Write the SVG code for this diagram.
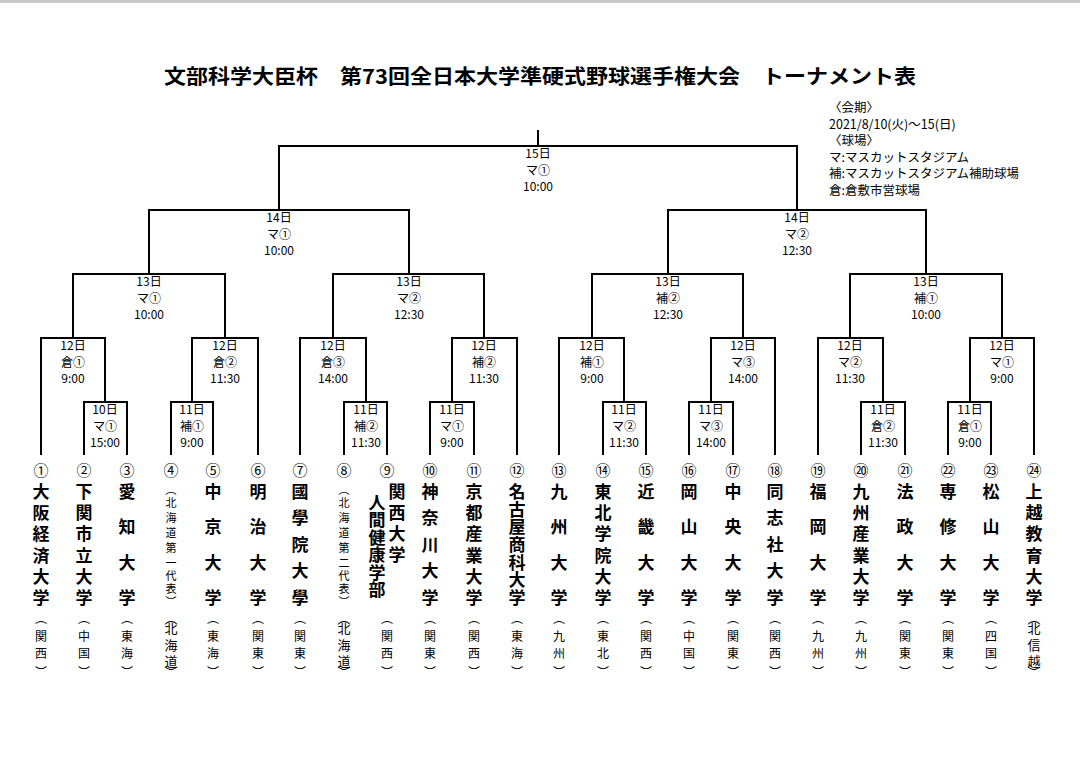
<svg xmlns="http://www.w3.org/2000/svg" width="1080" height="765" viewBox="0 0 1080 765">
<style>
text{font-family:"Noto Sans CJK JP","Noto Sans",sans-serif;fill:#000;text-anchor:middle}
.t{font-size:20px;font-weight:bold}
.i{font-size:12.5px;text-anchor:start}
.m{font-size:12px}
.c{font-size:15px}
.n{font-size:17px;font-weight:bold}
.r{font-size:12px}
.r3{font-size:13px}
.s{font-size:11px}
path{fill:none;stroke:#000;stroke-width:2}
</style>
<rect width="1080" height="765" fill="#fff"/>
<rect width="1080" height="3" fill="#c8c8c8"/>
<text class="t" x="540" y="84" textLength="752" lengthAdjust="spacingAndGlyphs">文部科学大臣杯　第73回全日本大学準硬式野球選手権大会　トーナメント表</text>
<g id="info">
<text class="i" x="829" y="112">〈会期〉</text>
<text class="i" x="829" y="129">2021/8/10(火)〜15(日)</text>
<text class="i" x="829" y="145">〈球場〉</text>
<text class="i" x="829" y="162">マ:マスカットスタジアム</text>
<text class="i" x="829" y="178">補:マスカットスタジアム補助球場</text>
<text class="i" x="829" y="195">倉:倉敷市営球場</text>
</g>
<g id="connectors">
<path d="M84,455V402H127V455"/><path d="M171,455V402H213V455"/><path d="M344,455V402H387V455"/><path d="M430,455V402H474V455"/>
<path d="M603,455V402H646V455"/><path d="M689,455V402H733V455"/><path d="M861,455V402H905V455"/><path d="M948,455V402H991V455"/>
<path d="M41,455V338H105V402"/><path d="M192,402V338H258V455"/><path d="M300,455V338H366V402"/><path d="M452,402V338H517V455"/>
<path d="M559,455V338H624V402"/><path d="M711,402V338H775V455"/><path d="M818,455V338H883V402"/><path d="M970,402V338H1034V455"/>
<path d="M73,338V274H225V338"/><path d="M333,338V274H484V338"/><path d="M592,338V274H743V338"/><path d="M850,338V274H1002V338"/>
<path d="M149,274V210H409V274"/><path d="M668,274V210H926V274"/>
<path d="M279,210V146H797V210"/><path d="M538,146V130"/>
</g>
<g id="matches">
<g id="m15"><text class="m" x="538" y="158">15日</text><text class="m" x="538" y="175">マ①</text><text class="m" x="538" y="191">10:00</text></g>
<g id="m14a"><text class="m" x="279" y="222">14日</text><text class="m" x="279" y="239">マ①</text><text class="m" x="279" y="255">10:00</text></g>
<g id="m14b"><text class="m" x="797" y="222">14日</text><text class="m" x="797" y="239">マ②</text><text class="m" x="797" y="255">12:30</text></g>
<g id="m13a"><text class="m" x="149" y="286">13日</text><text class="m" x="149" y="303">マ①</text><text class="m" x="149" y="319">10:00</text></g>
<g id="m13b"><text class="m" x="409" y="286">13日</text><text class="m" x="409" y="303">マ②</text><text class="m" x="409" y="319">12:30</text></g>
<g id="m13c"><text class="m" x="668" y="286">13日</text><text class="m" x="668" y="303">補②</text><text class="m" x="668" y="319">12:30</text></g>
<g id="m13d"><text class="m" x="926" y="286">13日</text><text class="m" x="926" y="303">補①</text><text class="m" x="926" y="319">10:00</text></g>
<g id="m12a"><text class="m" x="73" y="350">12日</text><text class="m" x="73" y="367">倉①</text><text class="m" x="73" y="383">9:00</text></g>
<g id="m12b"><text class="m" x="225" y="350">12日</text><text class="m" x="225" y="367">倉②</text><text class="m" x="225" y="383">11:30</text></g>
<g id="m12c"><text class="m" x="333" y="350">12日</text><text class="m" x="333" y="367">倉③</text><text class="m" x="333" y="383">14:00</text></g>
<g id="m12d"><text class="m" x="484" y="350">12日</text><text class="m" x="484" y="367">補②</text><text class="m" x="484" y="383">11:30</text></g>
<g id="m12e"><text class="m" x="592" y="350">12日</text><text class="m" x="592" y="367">補①</text><text class="m" x="592" y="383">9:00</text></g>
<g id="m12f"><text class="m" x="743" y="350">12日</text><text class="m" x="743" y="367">マ③</text><text class="m" x="743" y="383">14:00</text></g>
<g id="m12g"><text class="m" x="850" y="350">12日</text><text class="m" x="850" y="367">マ②</text><text class="m" x="850" y="383">11:30</text></g>
<g id="m12h"><text class="m" x="1002" y="350">12日</text><text class="m" x="1002" y="367">マ①</text><text class="m" x="1002" y="383">9:00</text></g>
<g id="m11a"><text class="m" x="105" y="414">10日</text><text class="m" x="105" y="431">マ①</text><text class="m" x="105" y="447">15:00</text></g>
<g id="m11b"><text class="m" x="192" y="414">11日</text><text class="m" x="192" y="431">補①</text><text class="m" x="192" y="447">9:00</text></g>
<g id="m11c"><text class="m" x="366" y="414">11日</text><text class="m" x="366" y="431">補②</text><text class="m" x="366" y="447">11:30</text></g>
<g id="m11d"><text class="m" x="452" y="414">11日</text><text class="m" x="452" y="431">マ①</text><text class="m" x="452" y="447">9:00</text></g>
<g id="m11e"><text class="m" x="624" y="414">11日</text><text class="m" x="624" y="431">マ②</text><text class="m" x="624" y="447">11:30</text></g>
<g id="m11f"><text class="m" x="711" y="414">11日</text><text class="m" x="711" y="431">マ③</text><text class="m" x="711" y="447">14:00</text></g>
<g id="m11g"><text class="m" x="883" y="414">11日</text><text class="m" x="883" y="431">倉②</text><text class="m" x="883" y="447">11:30</text></g>
<g id="m11h"><text class="m" x="970" y="414">11日</text><text class="m" x="970" y="431">倉①</text><text class="m" x="970" y="447">9:00</text></g>
</g>
<g id="teams">
<g id="t1"><text class="c" x="41" y="476">①</text><text class="n" x="41 41 41 41 41 41" y="498 519 540 562 583 604">大阪経済大学</text><text class="r" x="41 41 41 41" y="623 641 658 677">︵関西︶</text></g>
<g id="t2"><text class="c" x="84" y="476">②</text><text class="n" x="84 84 84 84 84 84" y="498 519 540 562 583 604">下関市立大学</text><text class="r" x="84 84 84 84" y="623 641 658 677">︵中国︶</text></g>
<g id="t3"><text class="c" x="127" y="476">③</text><text class="n" x="127 127 127 127" y="498 533 569 604">愛知大学</text><text class="r" x="127 127 127 127" y="623 641 658 677">︵東海︶</text></g>
<g id="t4"><text class="c" x="171" y="476">④</text><text class="s" x="171 171 171 171 171 171 171 171 171" y="494 507 522 537 552 567 580 593 606">︵北海道第一代表︶</text><text class="r3" x="171 171 171 171 171" y="623 633 650 666 677">︵北海道︶</text></g>
<g id="t5"><text class="c" x="213" y="476">⑤</text><text class="n" x="213 213 213 213" y="498 533 569 604">中京大学</text><text class="r" x="213 213 213 213" y="623 641 658 677">︵東海︶</text></g>
<g id="t6"><text class="c" x="258" y="476">⑥</text><text class="n" x="258 258 258 258" y="498 533 569 604">明治大学</text><text class="r" x="258 258 258 258" y="623 641 658 677">︵関東︶</text></g>
<g id="t7"><text class="c" x="300" y="476">⑦</text><text class="n" x="300 300 300 300 300" y="498 524 551 577 604">國學院大學</text><text class="r" x="300 300 300 300" y="623 641 658 677">︵関東︶</text></g>
<g id="t8"><text class="c" x="344" y="476">⑧</text><text class="s" x="344 344 344 344 344 344 344 344 344" y="494 507 522 537 552 567 580 593 606">︵北海道第二代表︶</text><text class="r3" x="344 344 344 344 344" y="623 633 650 666 677">︵北海道︶</text></g>
<g id="t9"><text class="c" x="387" y="476">⑨</text><text class="n" x="397 397 397 397" y="498 519 540 561">関西大学</text><text class="n" x="377 377 377 377 377 377" y="509 526 544 561 579 596">人間健康学部</text><text class="r" x="387 387 387 387" y="623 641 658 677">︵関西︶</text></g>
<g id="t10"><text class="c" x="430" y="476">⑩</text><text class="n" x="430 430 430 430 430" y="498 524 551 577 604">神奈川大学</text><text class="r" x="430 430 430 430" y="623 641 658 677">︵関東︶</text></g>
<g id="t11"><text class="c" x="474" y="476">⑪</text><text class="n" x="474 474 474 474 474 474" y="498 519 540 562 583 604">京都産業大学</text><text class="r" x="474 474 474 474" y="623 641 658 677">︵関西︶</text></g>
<g id="t12"><text class="c" x="517" y="476">⑫</text><text class="n" x="517 517 517 517 517 517 517" y="498 516 533 551 569 586 604">名古屋商科大学</text><text class="r" x="517 517 517 517" y="623 641 658 677">︵東海︶</text></g>
<g id="t13"><text class="c" x="559" y="476">⑬</text><text class="n" x="559 559 559 559" y="498 533 569 604">九州大学</text><text class="r" x="559 559 559 559" y="623 641 658 677">︵九州︶</text></g>
<g id="t14"><text class="c" x="603" y="476">⑭</text><text class="n" x="603 603 603 603 603 603" y="498 519 540 562 583 604">東北学院大学</text><text class="r" x="603 603 603 603" y="623 641 658 677">︵東北︶</text></g>
<g id="t15"><text class="c" x="646" y="476">⑮</text><text class="n" x="646 646 646 646" y="498 533 569 604">近畿大学</text><text class="r" x="646 646 646 646" y="623 641 658 677">︵関西︶</text></g>
<g id="t16"><text class="c" x="689" y="476">⑯</text><text class="n" x="689 689 689 689" y="498 533 569 604">岡山大学</text><text class="r" x="689 689 689 689" y="623 641 658 677">︵中国︶</text></g>
<g id="t17"><text class="c" x="733" y="476">⑰</text><text class="n" x="733 733 733 733" y="498 533 569 604">中央大学</text><text class="r" x="733 733 733 733" y="623 641 658 677">︵関東︶</text></g>
<g id="t18"><text class="c" x="775" y="476">⑱</text><text class="n" x="775 775 775 775 775" y="498 524 551 577 604">同志社大学</text><text class="r" x="775 775 775 775" y="623 641 658 677">︵関西︶</text></g>
<g id="t19"><text class="c" x="818" y="476">⑲</text><text class="n" x="818 818 818 818" y="498 533 569 604">福岡大学</text><text class="r" x="818 818 818 818" y="623 641 658 677">︵九州︶</text></g>
<g id="t20"><text class="c" x="861" y="476">⑳</text><text class="n" x="861 861 861 861 861 861" y="498 519 540 562 583 604">九州産業大学</text><text class="r" x="861 861 861 861" y="623 641 658 677">︵九州︶</text></g>
<g id="t21"><text class="c" x="905" y="476">㉑</text><text class="n" x="905 905 905 905" y="498 533 569 604">法政大学</text><text class="r" x="905 905 905 905" y="623 641 658 677">︵関東︶</text></g>
<g id="t22"><text class="c" x="948" y="476">㉒</text><text class="n" x="948 948 948 948" y="498 533 569 604">専修大学</text><text class="r" x="948 948 948 948" y="623 641 658 677">︵関東︶</text></g>
<g id="t23"><text class="c" x="991" y="476">㉓</text><text class="n" x="991 991 991 991" y="498 533 569 604">松山大学</text><text class="r" x="991 991 991 991" y="623 641 658 677">︵四国︶</text></g>
<g id="t24"><text class="c" x="1034" y="476">㉔</text><text class="n" x="1034 1034 1034 1034 1034 1034" y="498 519 540 562 583 604">上越教育大学</text><text class="r3" x="1034 1034 1034 1034 1034" y="623 633 650 666 677">︵北信越︶</text></g>
</g>
</svg>
